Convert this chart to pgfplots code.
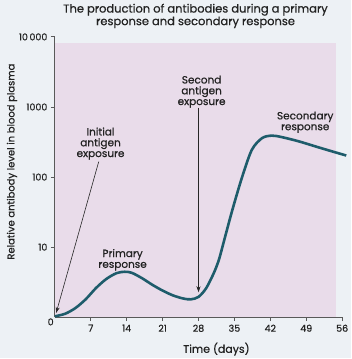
\documentclass[border=0pt]{standalone}
\usepackage{pgfplots}
\pgfplotsset{compat=1.18}
\usepackage{fontspec}
\setmainfont{Poppins}[FakeBold=0.6,UprightFont=*,BoldFont=*]
\usetikzlibrary{arrows.meta}
\definecolor{bgc}{HTML}{EDF1F5}
\definecolor{pinkc}{HTML}{E9DCEA}
\definecolor{curvec}{HTML}{1E5C6B}
\definecolor{txt}{HTML}{222222}
\begin{document}
\begin{tikzpicture}
\fill[bgc] (-55pt,-41pt) rectangle (297pt,318pt);
\begin{axis}[
  scale only axis, width=288pt, height=281pt,
  xmin=0, xmax=56, ymode=log, ymin=1, ymax=10000,
  axis lines*=left, axis line style={draw=black!65, line width=0.8pt},
  tick align=outside, major tick length=4pt,
  tick style={draw=black!65, line width=0.8pt},
  xtick={7,14,21,28,35,42,49,56},
  xticklabels={7,14,21,28,35,42,49,56},
  ytick={10,100,1000,10000},
  yticklabels={10,100,1000,10\,000},
  yminorticks=false,
  ticklabel style={font=\fontsize{9.5}{10}\selectfont, text=txt},
  clip=false,
]
\addplot[fill=pinkc, draw=none] coordinates {(0,1) (54.8,1) (54.8,8300) (0,8300)} -- cycle;
\addplot[curvec, line width=2.6pt, smooth, tension=0.5] coordinates {
(0,1.03) (2,1.12) (4,1.35) (6,1.8) (8,2.6) (10,3.5) (12,4.25) (13.6,4.45)
(15,4.3) (17,3.6) (19,2.9) (21,2.4) (23,2.05) (25,1.85) (26.5,1.8) (28,1.95)
(29.5,2.6) (31,4.3) (32,6.7) (33,12.5) (34.6,34) (36.5,100) (38.4,245)
(40.4,360) (42.3,390) (44.2,372) (47.5,324) (50.7,275) (53.9,234) (56.8,203)
};
\draw[-{Stealth[length=6pt,width=4pt]}, black!85, line width=0.6pt] (axis cs:8.55,166) -- (axis cs:0.25,1.15);
\draw[-{Stealth[length=6pt,width=4pt]}, black!85, line width=0.6pt] (axis cs:28,980) -- (axis cs:28,2.27);
\node[align=center, font=\fontsize{10.5}{10.8}\selectfont, text=txt] at (axis cs:8.9,300) {Initial\\antigen\\exposure};
\node[align=center, font=\fontsize{10.5}{10.8}\selectfont, text=txt] at (axis cs:13.2,6.6) {Primary\\response};
\node[align=center, font=\fontsize{10.5}{10.8}\selectfont, text=txt] at (axis cs:28.6,1650) {Second\\antigen\\exposure};
\node[align=center, font=\fontsize{10.5}{10.8}\selectfont, text=txt] at (axis cs:48.8,605) {Secondary\\response};
\node[font=\fontsize{9.5}{10}\selectfont, text=txt, anchor=north east, inner sep=1pt] at (axis cs:0,1) {0};
\node[font=\fontsize{11}{12}\selectfont, text=txt] at (axis cs:31.5,1) [yshift=-32pt] {Time (days)};
\node[font=\fontsize{10}{12}\selectfont, text=txt, xshift=-43pt, rotate=90] at (axis cs:0,166) {Relative antibody level in blood plasma};
\end{axis}
\node[align=center, font=\fontsize{11.5}{11.5}\selectfont, text=txt] at (141pt,302pt) {The production of antibodies during a primary\\response and secondary response};
\end{tikzpicture}
\end{document}
